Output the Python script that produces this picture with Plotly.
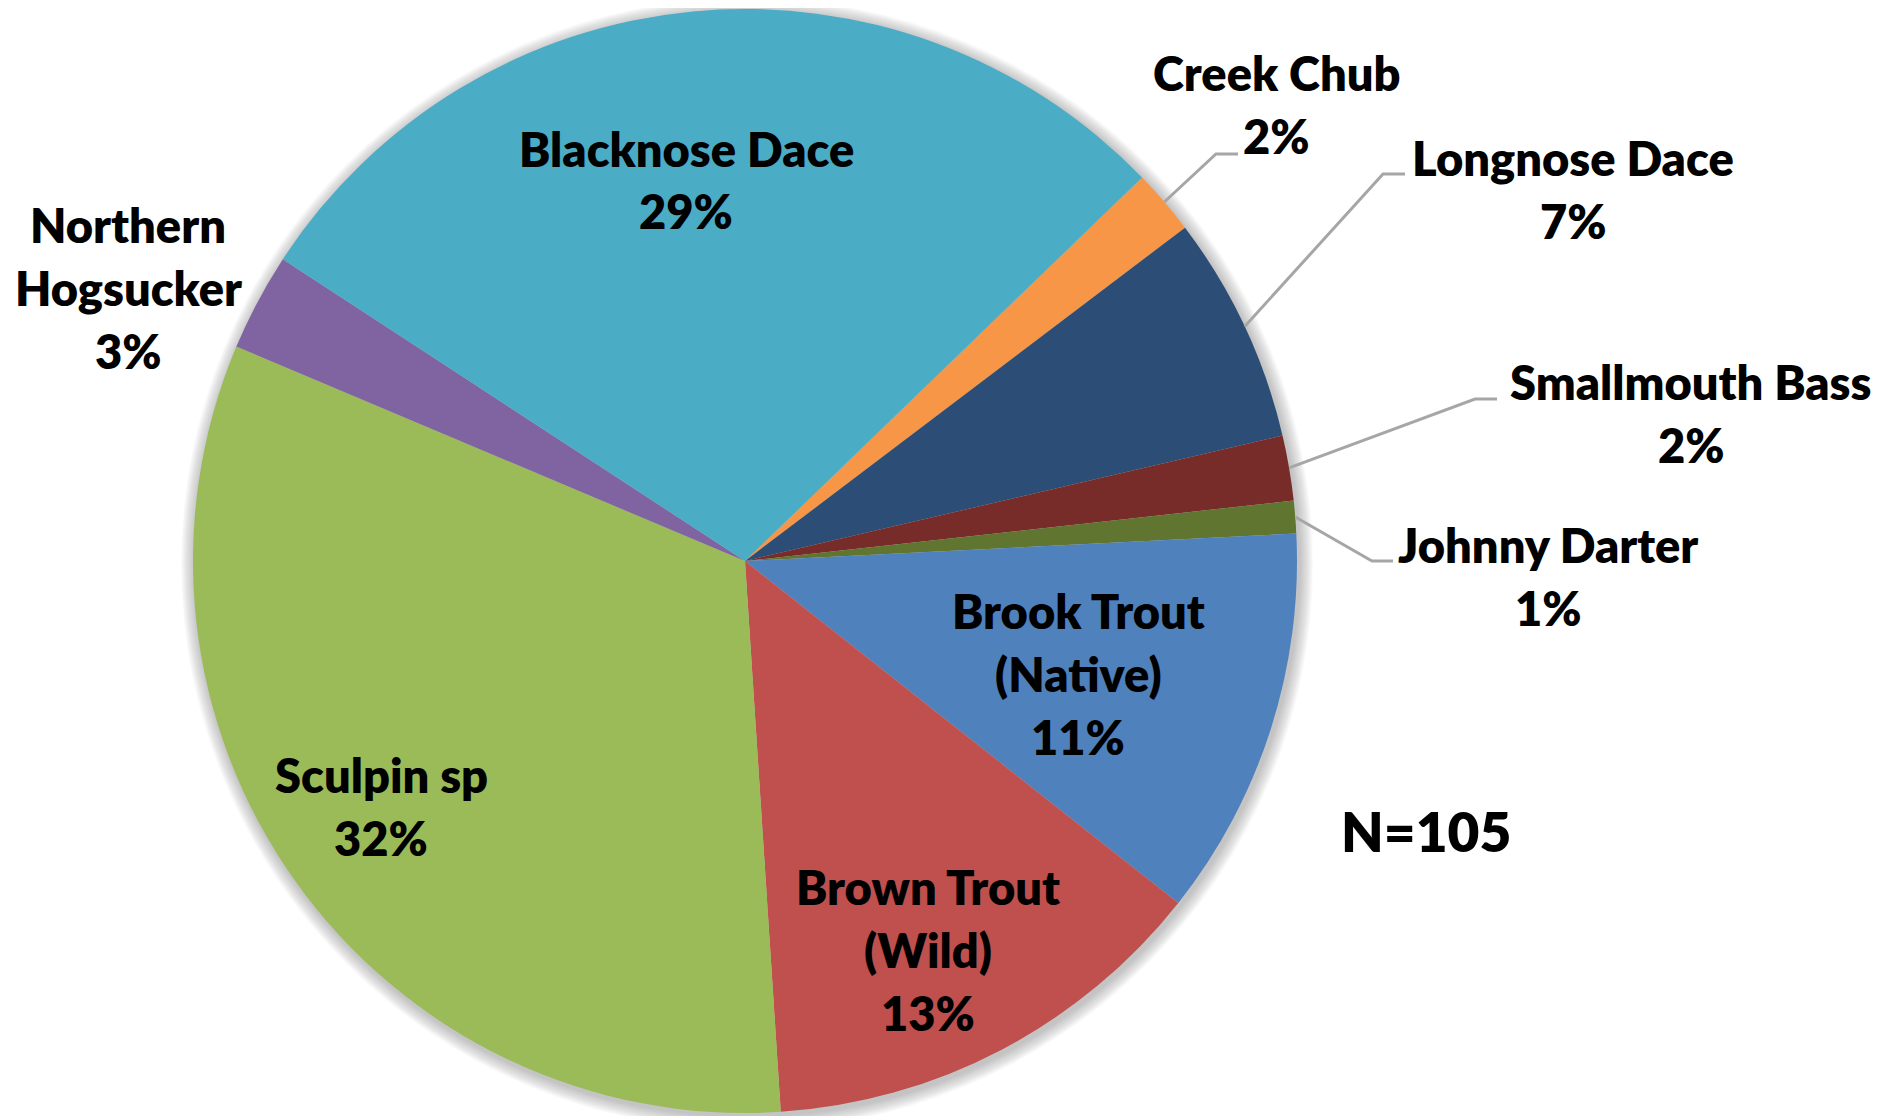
import math
import plotly.graph_objects as go

# ---------------- data ----------------
species = ["Creek Chub", "Longnose Dace", "Smallmouth Bass", "Johnny Darter",
           "Brook Trout (Native)", "Brown Trout (Wild)", "Sculpin sp",
           "Northern Hogsucker", "Blacknose Dace"]
counts = [2, 7, 2, 1, 12, 14, 34, 3, 30]
label_lines = [["Creek Chub"], ["Longnose Dace"], ["Smallmouth Bass"], ["Johnny Darter"],
               ["Brook Trout", "(Native)"], ["Brown Trout", "(Wild)"], ["Sculpin sp"],
               ["Northern", "Hogsucker"], ["Blacknose Dace"]]
colors = ["#F79646", "#2C4D75", "#772C2A", "#5F7530",
          "#4F81BD", "#C0504D", "#9BBB59", "#8064A2", "#4BACC6"]
N_TOTAL = sum(counts)

# ---------------- layout constants (screen pixels) ----------------
OFF = 8                      # page body margin
W, H = 1893 - OFF, 1116 - OFF
CX, CY, R = 745, 561, 552
ROT = 46
FONT = "Lato"
FS = 47
LS = 63                      # line spacing, px

# label block centres (px)
label_pos = {
    "Creek Chub": (1276, 105),
    "Longnose Dace": (1573, 190),
    "Smallmouth Bass": (1691, 413),
    "Johnny Darter": (1548, 576),
    "Brook Trout (Native)": (1078, 674),
    "Brown Trout (Wild)": (928, 950),
    "Sculpin sp": (381, 806),
    "Northern Hogsucker": (128, 288),
    "Blacknose Dace": (686, 180),
}
# leader lines: elbow (x, y) and horizontal end x
leaders = {
    "Creek Chub": (1216, 154, 1238),
    "Longnose Dace": (1383, 174, 1405),
    "Smallmouth Bass": (1475, 399, 1497),
    "Johnny Darter": (1372, 561, 1393),
}


def px(x):
    return (x - OFF) / W


def py(y):
    return 1 - (y - OFF) / H


fig = go.Figure(go.Pie(
    values=counts, labels=species, sort=False, direction="clockwise",
    rotation=ROT, textinfo="none", hoverinfo="label+percent",
    marker=dict(colors=colors, line=dict(width=0)),
    domain=dict(x=[px(CX - R), px(CX + R)], y=[py(CY + R), py(CY - R)]),
    showlegend=False,
))

shapes = []
# soft shadow behind the pie
for k in range(14, 0, -1):
    rr = R + k
    shapes.append(dict(
        type="circle", xref="paper", yref="paper", layer="below",
        x0=px(CX + 2 - rr), x1=px(CX + 2 + rr),
        y0=py(CY + 3 + rr), y1=py(CY + 3 - rr),
        fillcolor="rgba(120,120,120,0.04)", line=dict(width=0),
    ))

annotations = []


def add_text(x, y, txt, size):
    annotations.append(dict(
        x=px(x), y=py(y), xref="paper", yref="paper",
        xanchor="center", yanchor="middle", showarrow=False, align="center",
        text=txt, font=dict(family=FONT, size=size, color="black", weight=800),
    ))


cum = 0
for name, c, lines in zip(species, counts, label_lines):
    mid = ROT + (cum + c / 2) / N_TOTAL * 360
    cum += c
    pct = round(100 * c / N_TOTAL)
    rows = lines + [f"{pct}%"]
    lx, ly = label_pos[name]
    n = len(rows)
    for i, row in enumerate(rows):
        add_text(lx, ly + (i - (n - 1) / 2) * LS, row, FS)
    if name in leaders:
        ex, ey, hx = leaders[name]
        a = math.radians(mid)
        sx = CX + R * math.sin(a)
        sy = CY - R * math.cos(a)
        path = f"M {px(sx)} {py(sy)} L {px(ex)} {py(ey)} L {px(hx)} {py(ey)}"
        shapes.append(dict(type="path", xref="paper", yref="paper", path=path,
                           line=dict(color="#A6A6A6", width=3), layer="above"))

add_text(1426, 831, f"N={N_TOTAL}", 55)

fig.update_layout(
    width=W, height=H, margin=dict(l=0, r=0, t=0, b=0),
    paper_bgcolor="white", plot_bgcolor="white",
    shapes=shapes, annotations=annotations,
)

fig.write_html("out.html")
